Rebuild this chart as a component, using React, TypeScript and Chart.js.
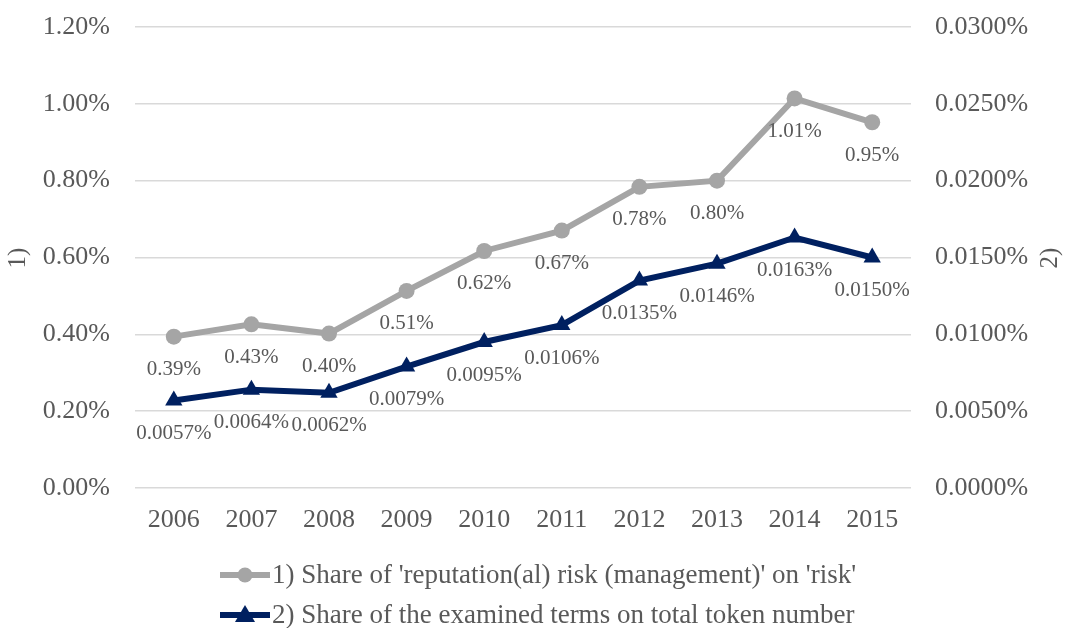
import React, { useEffect, useRef } from "react";
import { Chart, registerables } from "chart.js";

Chart.register(...registerables);

const years = ["2006", "2007", "2008", "2009", "2010", "2011", "2012", "2013", "2014", "2015"];
// 1) share of 'reputation(al) risk (management)' on 'risk', in percent
const reputationShare = [0.394, 0.426, 0.402, 0.513, 0.617, 0.67, 0.784, 0.8, 1.014, 0.952];
// 2) share of the examined terms on total token number, in percent
const tokenShare = [0.0057, 0.0064, 0.0062, 0.0079, 0.0095, 0.0106, 0.0135, 0.0146, 0.0163, 0.015];

const legendLabels = [
  "1) Share of 'reputation(al) risk (management)' on 'risk'",
  "2) Share of the examined terms on total token number",
];

const GRAY = "#A5A5A5";
const NAVY = "#002060";
const TEXT = "#595959";
const FONT = "'Liberation Serif', 'Times New Roman', serif";

const labelPlugin = {
  id: "pointLabels",
  afterDatasetsDraw(chart: any) {
    const ctx = chart.ctx;
    ctx.save();
    ctx.fillStyle = TEXT;
    ctx.font = `21px ${FONT}`;
    ctx.textAlign = "center";
    ctx.textBaseline = "middle";
    chart.data.datasets.forEach((ds: any, i: number) => {
      const meta = chart.getDatasetMeta(i);
      const digits = i === 0 ? 2 : 4;
      meta.data.forEach((pt: any, j: number) => {
        const v = ds.data[j] as number;
        ctx.fillText(v.toFixed(digits) + "%", pt.x, pt.y + 33);
      });
    });
    ctx.restore();
  },
  afterDraw(chart: any) {
    const ctx = chart.ctx;
    ctx.save();
    ctx.fillStyle = TEXT;
    ctx.font = `25px ${FONT}`;
    ctx.textAlign = "center";
    ctx.textBaseline = "middle";
    // axis titles
    [[18, "1)"], [1050, "2)"]].forEach(([x, t]) => {
      ctx.save();
      ctx.translate(x as number, 258);
      ctx.rotate(-Math.PI / 2);
      ctx.fillText(t as string, 0, 0);
      ctx.restore();
    });
    // legend
    ctx.font = `27px ${FONT}`;
    const rows = [575, 615];
    const colors = [GRAY, NAVY];
    rows.forEach((y, i) => {
      ctx.strokeStyle = colors[i];
      ctx.fillStyle = colors[i];
      ctx.lineWidth = 6;
      ctx.beginPath();
      ctx.moveTo(220, y);
      ctx.lineTo(270, y);
      ctx.stroke();
      ctx.beginPath();
      if (i === 0) {
        ctx.arc(245, y, 7.5, 0, Math.PI * 2);
      } else {
        ctx.moveTo(245, y - 10);
        ctx.lineTo(255, y + 7);
        ctx.lineTo(235, y + 7);
        ctx.closePath();
      }
      ctx.fill();
      ctx.fillStyle = TEXT;
      ctx.textAlign = "left";
      ctx.fillText(legendLabels[i], 272, y + 1);
    });
    ctx.restore();
  },
};

const fitVertical = (width: number) => (s: any) => {
  s.width = width;
  s.paddingTop = 0;
  s.paddingBottom = 0;
};

export default function App() {
  const ref = useRef<HTMLCanvasElement>(null);

  useEffect(() => {
    document.body.style.margin = "0";
    const chart = new Chart(ref.current!, {
      type: "line",
      data: {
        labels: years,
        datasets: [
          {
            label: legendLabels[0],
            data: reputationShare,
            borderColor: GRAY,
            backgroundColor: GRAY,
            borderWidth: 6,
            pointStyle: "circle",
            pointRadius: 8,
            pointBorderWidth: 0,
            yAxisID: "y",
          },
          {
            label: legendLabels[1],
            data: tokenShare,
            borderColor: NAVY,
            backgroundColor: NAVY,
            borderWidth: 6,
            pointStyle: "triangle",
            pointRadius: 10,
            pointBorderWidth: 0,
            yAxisID: "y1",
          },
        ],
      },
      options: {
        responsive: false,
        animation: false,
        layout: { padding: { top: 27, bottom: 90, left: 0, right: 0 } },
        plugins: { legend: { display: false }, tooltip: { enabled: false } },
        scales: {
          x: {
            offset: true,
            grid: { display: false, drawTicks: false },
            border: { display: false },
            ticks: { color: TEXT, font: { family: FONT, size: 26 }, padding: 17 },
            afterFit: (s: any) => { s.height = 50; s.paddingLeft = 0; s.paddingRight = 0; },
          },
          y: {
            position: "left",
            min: 0,
            max: 1.2,
            grid: { color: "#D9D9D9", lineWidth: 1.5, drawTicks: false },
            border: { display: false },
            ticks: {
              stepSize: 0.2,
              color: TEXT,
              font: { family: FONT, size: 26 },
              padding: 25,
              callback: (v: any) => Number(v).toFixed(2) + "%",
            },
            afterFit: fitVertical(135),
          },
          y1: {
            position: "right",
            min: 0,
            max: 0.03,
            grid: { display: false, drawTicks: false },
            border: { display: false },
            ticks: {
              stepSize: 0.005,
              color: TEXT,
              font: { family: FONT, size: 26 },
              padding: 24,
              callback: (v: any) => Number(v).toFixed(4) + "%",
            },
            afterFit: fitVertical(156),
          },
        },
      },
      plugins: [labelPlugin],
    });
    return () => chart.destroy();
  }, []);

  return <canvas ref={ref} width={1067} height={628} style={{ display: "block" }} />;
}
